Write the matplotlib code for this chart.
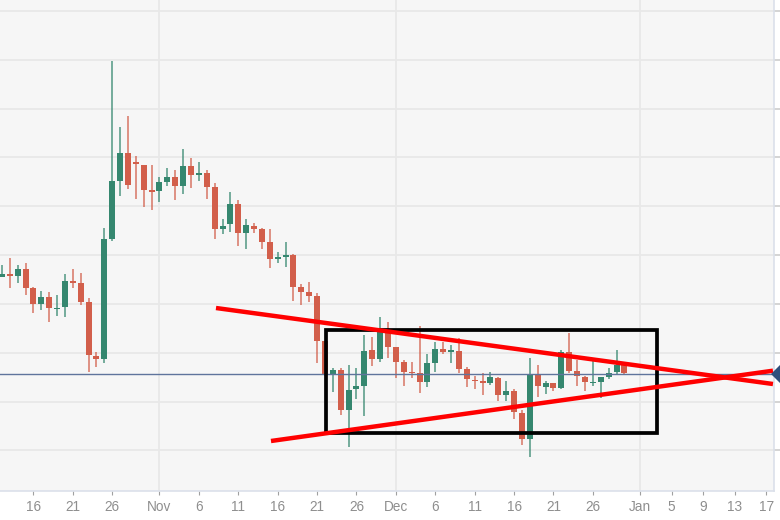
import matplotlib
matplotlib.use("Agg")
import matplotlib.pyplot as plt
from matplotlib.patches import Rectangle

plt.rcParams["font.family"] = ["Liberation Sans", "DejaVu Sans"]

# days counted from Nov 1, price in chart units (axis labels are cut off in the original)
days = list(range(-20, 60))
opens = [212.7, 215.7, 214, 220.7, 201.7, 186, 193.3, 181, 182.7, 209.3,
         206.7, 188.3, 134.3, 130.7, 251.3, 309.3, 337, 327.7, 325.3, 299.7,
         299, 308.3, 313.3, 304.3, 323.7, 315, 316.7, 303, 261, 265.7,
         286.3, 256.7, 264.3, 260.7, 247.7, 230.7, 233.3, 234.7, 202.7, 198.3,
         194.3, 149, 115.7, 120, 80, 100.7, 104.3, 140, 130.7, 157.7,
         142.7, 128.3, 118.3, 117.3, 107.7, 127.3, 141.3, 138.3, 139.3, 121,
         110, 108.7, 106.7, 112.5, 95, 99.3, 76.7, 51, 115, 103.3,
         106.7, 102.3, 137.7, 119, 113.3, 106.7, 107.7, 112.7, 117.7, 125]
closes = [216, 214.3, 220.7, 202.3, 186, 193.3, 181.7, 182.3, 208.7, 206.7,
          188.3, 135, 131, 250.7, 308.7, 337, 305, 326, 299.7, 298.3,
          307.7, 313.3, 304, 323.7, 315, 316.7, 303.3, 261, 264.3, 286.3,
          256.7, 265, 260.7, 247.7, 231, 233.3, 234.7, 202.7, 198.3, 194.3,
          149, 116, 120, 80, 100.3, 104, 139.3, 130.7, 157.7, 142.7,
          128.3, 118.3, 116.7, 107.7, 126.7, 141.3, 137.7, 139.3, 121, 110.7,
          108.7, 107.3, 112.5, 95, 99, 77.7, 51, 116, 104, 106.7,
          102.3, 138.3, 119.3, 114.3, 107.7, 107.7, 112.7, 117.3, 125, 116.7]
highs = [225, 232, 225, 227, 203, 199.3, 197.7, 195, 215.7, 220.7,
         216.7, 191.7, 138.3, 262.3, 429, 363.3, 374.3, 334, 325.3, 325,
         312.7, 321.7, 320, 340.7, 331.7, 327.7, 320, 307.3, 270.7, 297.7,
         290, 270.7, 266.7, 261.7, 261, 238.3, 248.3, 235.7, 206, 207.7,
         196.7, 149, 121.7, 121.7, 125, 122.3, 155, 152.7, 172.7, 167.7,
         143.3, 130, 128.3, 164.3, 136, 147.7, 148.3, 145, 151.7, 122.7,
         114, 116.7, 118.3, 113.3, 109.3, 100.7, 80, 132.3, 125, 109.3,
         107.3, 140, 156.7, 130, 114, 129, 113.3, 122.3, 140, 126.7]
lows = [213, 202, 207, 195, 177.3, 180, 168.3, 174, 173.3, 201.7,
        185, 118.3, 123.3, 127.3, 249.3, 294, 301, 291, 283.3, 280,
        288.3, 304, 290, 296, 301.7, 309, 291, 251, 255.7, 258.3,
        244.3, 240.7, 256.7, 240.7, 221.7, 227.3, 222.7, 189, 185, 188.3,
        127.3, 114, 98.3, 75, 42.7, 90.7, 74, 124.3, 128.3, 131.7,
        112, 104.3, 111.7, 96.7, 102.7, 118.3, 136, 127.3, 116.7, 102.7,
        100.7, 95, 105, 89.3, 89, 70.7, 45, 32.7, 92.7, 96,
        99, 100.7, 117.3, 104.3, 99.3, 104, 91.7, 110.7, 115.7, 116]

tick_days = [-16, -11, -6, 0, 5, 10, 15, 20, 25, 30, 35, 40, 45, 50, 55, 61, 65, 69, 73, 77]
tick_labels = ["16", "21", "26", "Nov", "6", "11", "16", "21", "26", "Dec",
               "6", "11", "16", "21", "26", "Jan", "5", "9", "13", "17"]
month_days = [0, 30, 61]
price_grid = [479, 430, 381, 333, 284, 235, 186.5, 137.5, 88.5, 40]
current_price = 116

# hand drawn trend lines and box
upper_x = [7.17, 77.85]
upper_y = [182, 106]
lower_x = [14.15, 77.85]
lower_y = [49, 119.3]
box_x = [21.13, 63.1]
box_y = [57.3, 160]

green = "#35876f"
red = "#d25f4b"
grey = "#8e8e8e"

fig = plt.figure(figsize=(7.8, 5.2), dpi=100)
ax = fig.add_axes([0, 1 - 490.5 / 520, 773.5 / 780, 490.5 / 520])
ax.set_facecolor("#f6f6f6")
ax.set_xlim(-20.24, 77.92)
ax.set_ylim(-0.5, 490)

# grid
for y in price_grid:
    ax.axhline(y, color="#e8e8e8", lw=1.3, zorder=1)
for x in month_days:
    ax.axvline(x, color="#e8e8e8", lw=1.3, zorder=1)

# candles
for d, o, c, h, l in zip(days, opens, closes, highs, lows):
    col = green if c >= o else red
    ax.vlines(d, l, h, color=col, lw=1.1, alpha=0.85, zorder=2)
    ax.bar(d, max(abs(c - o), 1.5), bottom=min(o, c), width=0.76, color=col, zorder=3)

ax.axhline(current_price, color="#5f749c", lw=1.0, zorder=4)

ax.add_patch(Rectangle((box_x[0], box_y[0]), box_x[1] - box_x[0], box_y[1] - box_y[0],
                       fill=False, ec="black", lw=2.7, zorder=5))
ax.plot(upper_x, upper_y, color="#ff0000", lw=3.2, solid_capstyle="butt", zorder=6)
ax.plot(lower_x, lower_y, color="#ff0000", lw=3.2, solid_capstyle="butt", zorder=6)

# marker for the current price, sits on the right edge
ax.plot([78.8], [current_price], marker="D", ms=9, mew=0, color="#2e4f7c", clip_on=False, zorder=7)

ax.set_xticks(tick_days)
ax.set_xticklabels(tick_labels)
ax.set_yticks(price_grid)
ax.yaxis.tick_right()
ax.tick_params(axis="y", labelright=False, length=4.5, width=1.1, color="#c9c9c9")
ax.tick_params(axis="x", length=3, width=0.8, color="#a0a0a0", labelsize=9.8,
               labelcolor=grey, pad=4)

for side in ["top", "left"]:
    ax.spines[side].set_visible(False)
for side in ["bottom", "right"]:
    ax.spines[side].set_color("#dbe0ea")
    ax.spines[side].set_linewidth(1.2)

fig.savefig("out.png", dpi=100)
